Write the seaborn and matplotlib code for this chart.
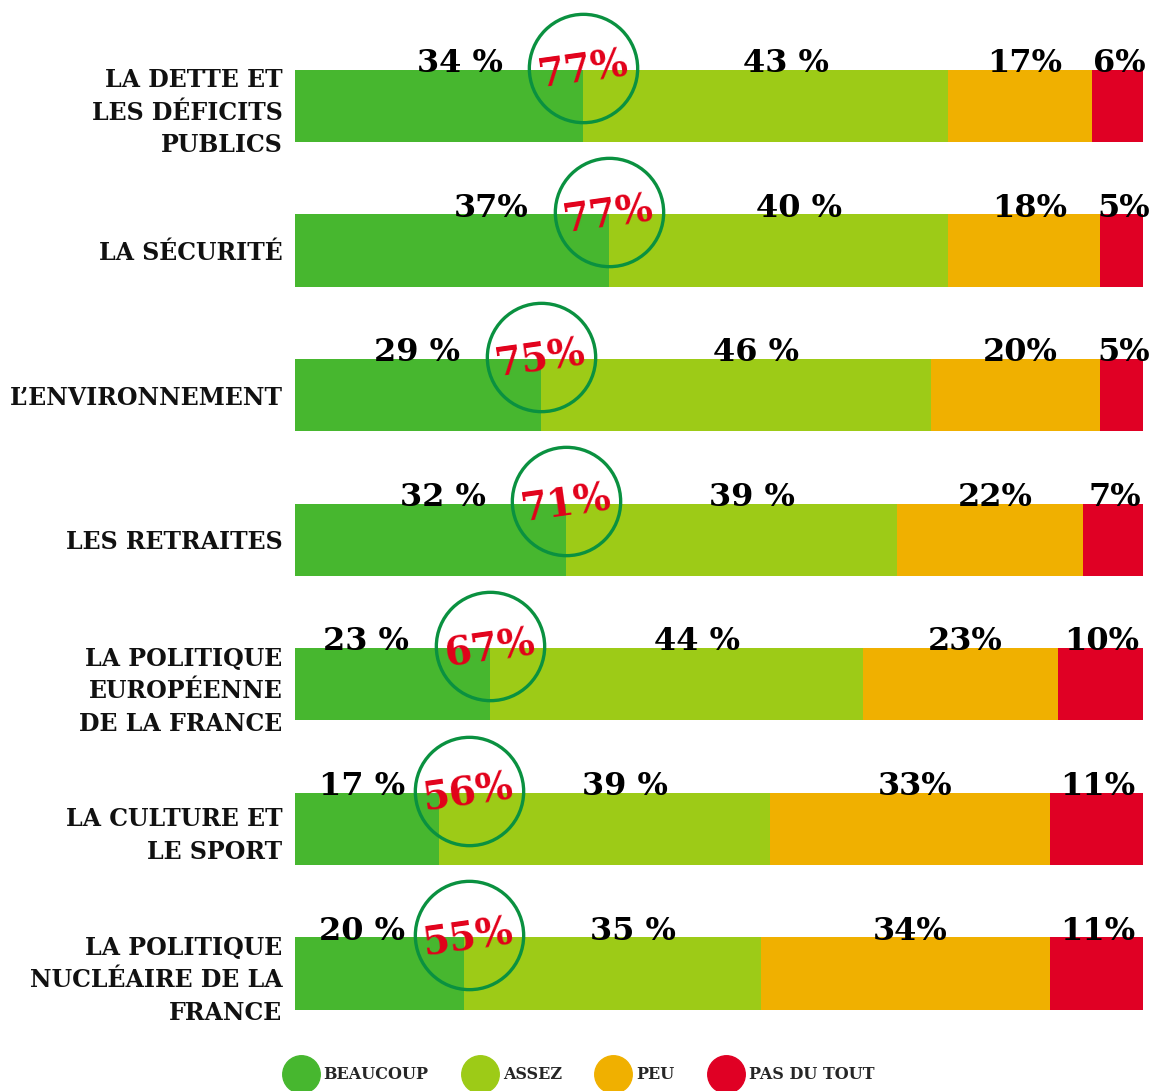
import matplotlib
matplotlib.use("Agg")
import matplotlib.pyplot as plt
import seaborn as sns
import pandas as pd
from matplotlib.lines import Line2D

# data
themes = ["LA DETTE ET\nLES DÉFICITS\nPUBLICS", "LA SÉCURITÉ", "L’ENVIRONNEMENT",
          "LES RETRAITES", "LA POLITIQUE\nEUROPÉENNE\nDE LA FRANCE",
          "LA CULTURE ET\nLE SPORT", "LA POLITIQUE\nNUCLÉAIRE DE LA\nFRANCE"]
beaucoup = [34, 37, 29, 32, 23, 17, 20]
assez = [43, 40, 46, 39, 44, 39, 35]
peu = [17, 18, 20, 22, 23, 33, 34]
pas_du_tout = [6, 5, 5, 7, 10, 11, 11]
total_interest = [77, 77, 75, 71, 67, 56, 55]

series_names = ["BEAUCOUP", "ASSEZ", "PEU", "PAS DU TOUT"]
colors = ["#47b72f", "#9dcb17", "#f0b000", "#e00024"]
ring_color = "#0a9140"
red_txt = "#e2001a"

sns.set_theme(style="white")
plt.rcParams['font.family'] = ['DejaVu Serif', 'DejaVu Sans']

df = pd.DataFrame({"theme": themes, "BEAUCOUP": beaucoup, "ASSEZ": assez,
                   "PEU": peu, "PAS DU TOUT": pas_du_tout})
cum = df[series_names].cumsum(axis=1)

fig = plt.figure(figsize=(11.52, 10.91), dpi=100)
ax = fig.add_axes([0.256, 0.056, 0.736, 0.944])

# stacked bars: draw the longest cumulative first
for name, col in reversed(list(zip(series_names, colors))):
    sns.barplot(x=cum[name], y=df["theme"], orient="h", color=col,
                width=0.5, saturation=1, ax=ax, linewidth=0)

ax.set_xlim(0, 100)
ax.set_ylim(6.39, -0.733)
ax.set_xlabel("")
ax.set_ylabel("")
ax.set_xticks([])
sns.despine(ax=ax, left=True, bottom=True)
ax.tick_params(axis="y", length=0, pad=9)
for lab in ax.get_yticklabels():
    lab.set_fontsize(17)
    lab.set_fontweight("bold")
    lab.set_linespacing(1.45)
    lab.set_color("#111111")
    lab.set_ha("right")

lbl_kw = dict(fontsize=23, fontweight="bold", color="black", va="baseline", zorder=5)
for i in range(len(themes)):
    b, a, p, n = beaucoup[i], assez[i], peu[i], pas_du_tout[i]
    ytop = i - 0.235
    cx = max(b, 20.5)
    # beaucoup label, left of the ring
    bx = max(cx - 9.5, 13)
    ax.text(bx, ytop, f"{b} %" if i != 1 else f"{b}%", ha="right", **lbl_kw)
    ax.text(b + a / 2 + 2.4, ytop, f"{a} %", ha="center", **lbl_kw)
    ax.text(b + a + p / 2 + 0.6, ytop, f"{p}%", ha="center", **lbl_kw)
    ax.text(b + a + p + n / 2 + 0.2, ytop, f"{n}%", ha="center", **lbl_kw)
    # ring with total share
    ax.plot([cx], [i - 0.265], marker="o", ms=78, mfc="none", mec=ring_color,
            mew=2.4, zorder=6, clip_on=False)
    ax.text(cx, i - 0.245, f"{total_interest[i]}%", ha="center", va="center",
            rotation=8, fontsize=28, fontweight="bold", color=red_txt, zorder=7)

handles = [Line2D([0], [0], marker="o", ls="none", ms=27, mfc=c, mec=c) for c in colors]
leg = fig.legend(handles, series_names, loc="center", bbox_to_anchor=(0.503, 0.015),
                 ncol=4, frameon=False, handletextpad=0.45, columnspacing=2.2,
                 prop={"family": "DejaVu Serif", "weight": "bold", "size": 11.5})

fig.savefig("out.png", dpi=100)
